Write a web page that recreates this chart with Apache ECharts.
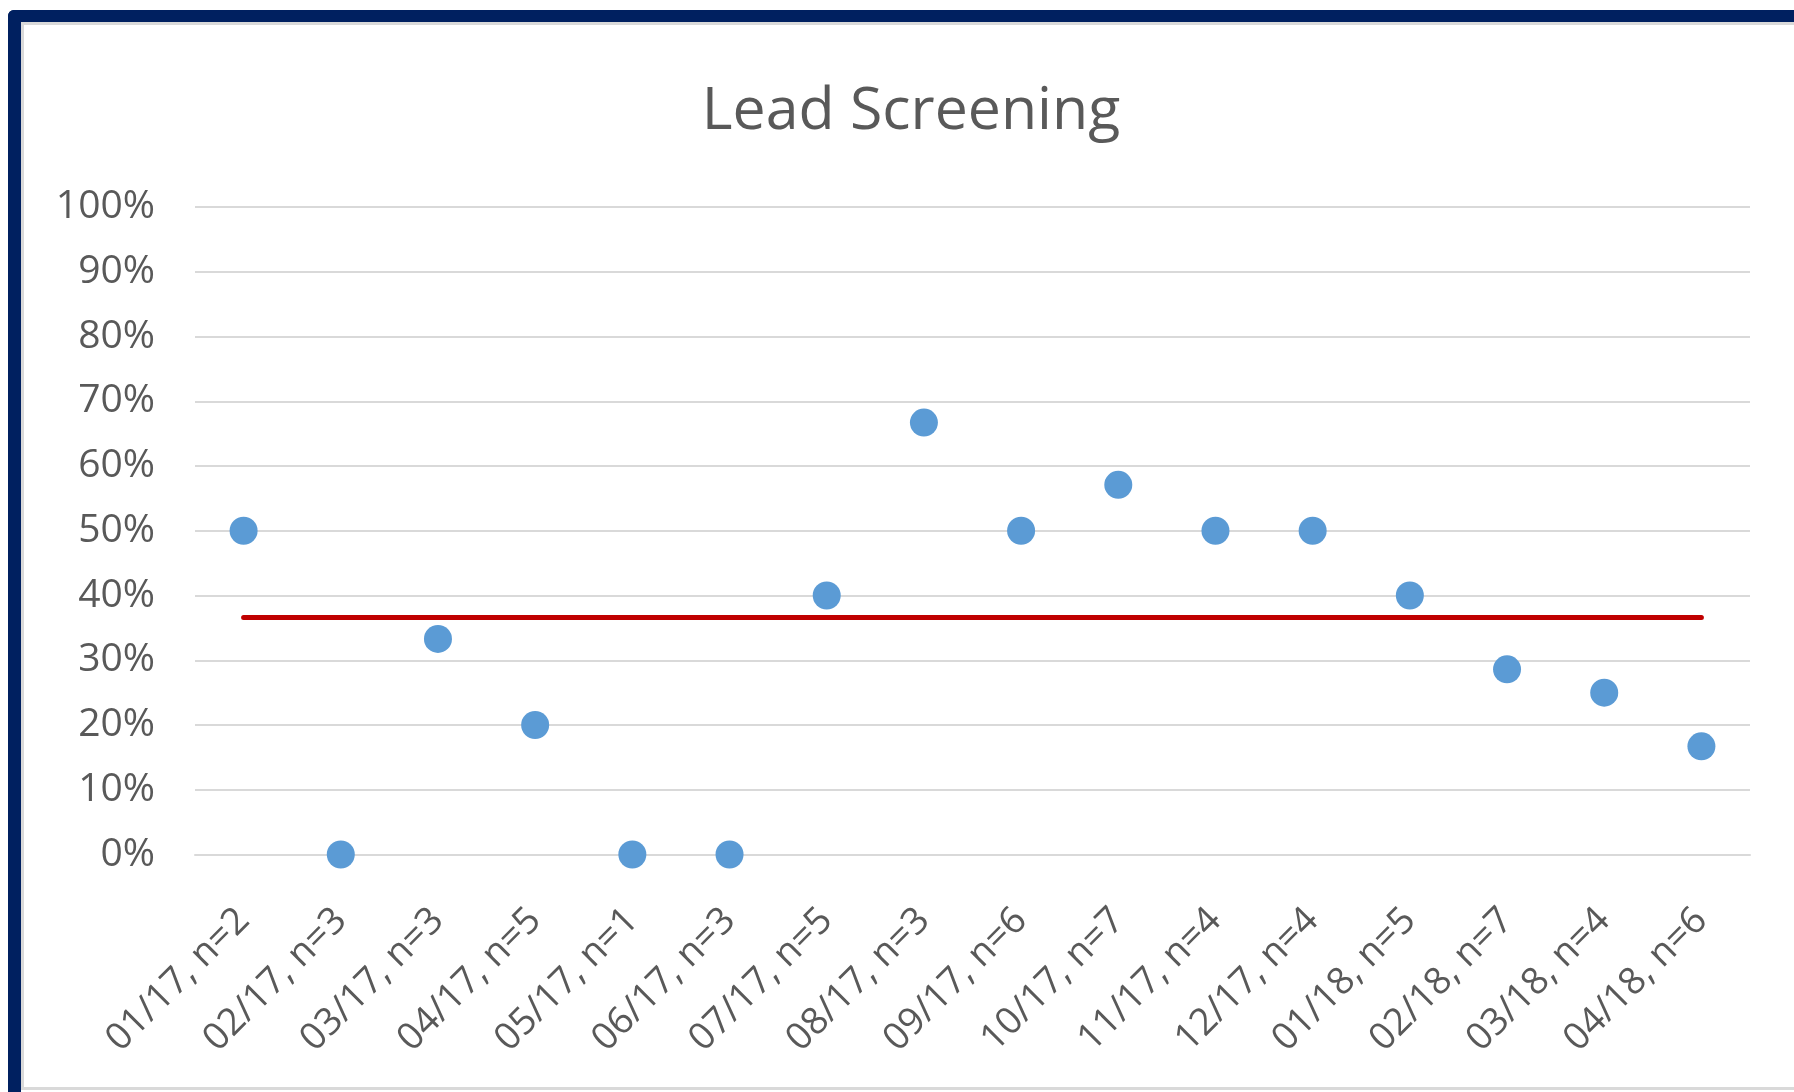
<!DOCTYPE html>
<html>
<head>
<meta charset="utf-8">
<script src="https://cdn.jsdelivr.net/npm/echarts@6/dist/echarts.min.js"></script>
<style>
  html, body { margin: 0; padding: 0; width: 1794px; height: 1092px; overflow: hidden; background: #fff; }
  #frame {
    position: absolute; left: 8px; top: 10px; width: 1820px; height: 1100px;
    border-left: 13px solid #002060; border-top: 13px solid #002060;
    border-top-left-radius: 6px; box-sizing: border-box;
  }
  #inner {
    position: absolute; left: 21px; top: 22px; width: 1800px; height: 1068px;
    border-left: 3px solid #d9d9d9; border-top: 3px solid #d9d9d9; border-bottom: 3px solid #d9d9d9;
    box-sizing: border-box;
  }
  #chart { position: absolute; left: 0; top: 0; width: 1794px; height: 1092px; }
</style>
</head>
<body>
<div id="frame"></div>
<div id="inner"></div>
<div id="chart"></div>
<script>
// 月份 + 样本数
var categories = ['01/17, n=2', '02/17, n=3', '03/17, n=3', '04/17, n=5', '05/17, n=1', '06/17, n=3',
  '07/17, n=5', '08/17, n=3', '09/17, n=6', '10/17, n=7', '11/17, n=4', '12/17, n=4',
  '01/18, n=5', '02/18, n=7', '03/18, n=4', '04/18, n=6'];
// 筛查比例
var rates = [0.5, 0, 0.333, 0.2, 0, 0, 0.4, 0.667, 0.5, 0.571, 0.5, 0.5, 0.4, 0.286, 0.25, 0.167];
// 平均线
var avgRate = 0.366;
var yTicks = [0, 0.1, 0.2, 0.3, 0.4, 0.5, 0.6, 0.7, 0.8, 0.9, 1];

var font = 'Open Sans';
var txt = '#595959';

var chart = echarts.init(document.getElementById('chart'));
chart.setOption({
  animation: false,
  title: {
    text: 'Lead Screening', left: 906, top: 78, textAlign: 'center',
    textStyle: { fontFamily: font, fontSize: 59, fontWeight: 'normal', color: txt }
  },
  grid: { left: 195, right: 44, top: 207, bottom: 237.5 },
  xAxis: {
    type: 'category', data: categories, boundaryGap: true,
    axisLine: { lineStyle: { color: '#d9d9d9', width: 2 } },
    axisTick: { show: false },
    axisLabel: {
      interval: 0, rotate: 45, margin: 60,
      fontFamily: font, fontSize: 37.5, color: txt
    }
  },
  yAxis: {
    type: 'value', min: yTicks[0], max: yTicks[yTicks.length - 1], interval: 0.1,
    axisLine: { show: false }, axisTick: { show: false },
    splitLine: { lineStyle: { color: '#d9d9d9', width: 2 } },
    axisLabel: {
      margin: 40, fontFamily: font, fontSize: 39, color: txt,
      formatter: function (v) { return Math.round(v * 100) + '%'; }
    }
  },
  series: [
    {
      type: 'line', data: categories.map(function () { return avgRate; }),
      showSymbol: false, symbol: 'none', z: 2,
      lineStyle: { color: '#c00000', width: 5, cap: 'round' }
    },
    {
      type: 'scatter', data: rates, symbolSize: 28, z: 3,
      itemStyle: { color: '#5b9bd5', opacity: 1 }
    }
  ]
});
</script>
</body>
</html>
